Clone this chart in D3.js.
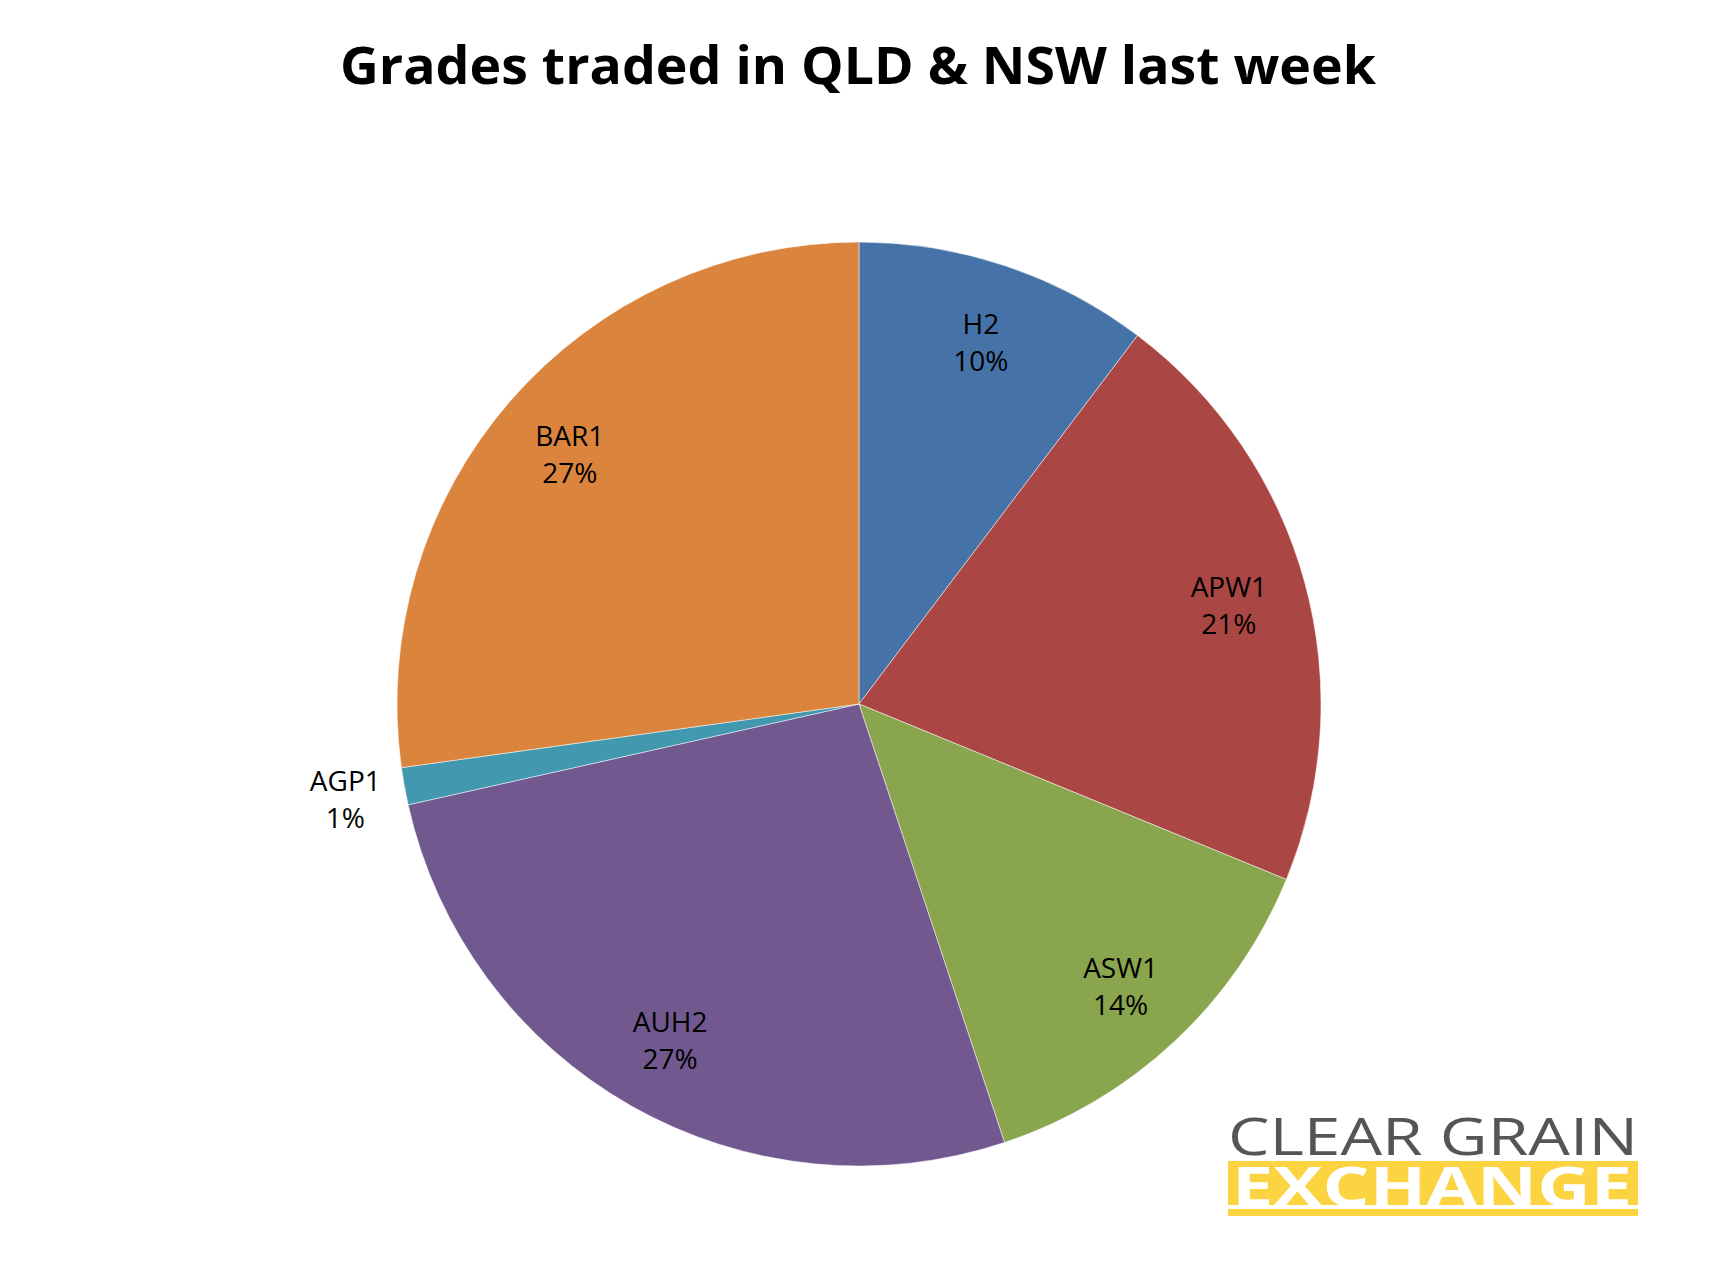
<!DOCTYPE html>
<html><head><meta charset="utf-8">
<script src="https://cdn.jsdelivr.net/npm/d3@7"></script>
<style>body{margin:0;background:#fff}</style></head>
<body><svg id="c" width="1717" height="1285"></svg>
<script>
const categories = ["H2","APW1","ASW1","AUH2","AGP1","BAR1"];
const values = [10.3,20.9,13.7,26.6,1.3,27.2];
const labels = ["10%","21%","14%","27%","1%","27%"];
const colors = ["#4572A7","#AA4643","#89A54E","#71588F","#4198AF","#DB843D"];

const svg = d3.select("#c");
const cx=859, cy=704, R=462;
svg.append("text").attr("x",858).attr("y",84).attr("text-anchor","middle")
  .attr("font-family","'Open Sans', sans-serif").attr("font-weight","bold")
  .attr("font-size",52).attr("textLength",1036).attr("lengthAdjust","spacingAndGlyphs")
  .text("Grades traded in QLD & NSW last week");

const pie = d3.pie().sort(null).value(d=>d)(values);
const arc = d3.arc().innerRadius(0).outerRadius(R);
const g = svg.append("g").attr("transform",`translate(${cx},${cy})`);
g.selectAll("path").data(pie).join("path").attr("d",arc)
  .attr("fill",(d,i)=>colors[i]).attr("stroke","#fff").attr("stroke-width",0.5);
g.selectAll("text.l").data(pie).join("text").attr("class","l")
  .each(function(d,i){
    const a=(d.startAngle+d.endAngle)/2, r = values[i]<3 ? R*1.13 : R*0.83;
    const x=Math.sin(a)*r, y=-Math.cos(a)*r;
    const t=d3.select(this).attr("text-anchor","middle")
      .attr("font-family","'Open Sans', sans-serif").attr("font-size",28).attr("fill","#000");
    t.append("tspan").attr("x",x).attr("y",y-6).text(categories[i]);
    t.append("tspan").attr("x",x).attr("y",y+31).text(labels[i]);
  });

const lg = svg.append("g");
lg.append("text").attr("x",1228).attr("y",1155).attr("textLength",410).attr("lengthAdjust","spacingAndGlyphs")
  .attr("font-family","'Open Sans', sans-serif").attr("font-size",51).attr("fill","#555")
  .text("CLEAR GRAIN");
lg.append("rect").attr("x",1228).attr("y",1161).attr("width",410).attr("height",44).attr("fill","#FCD340");
lg.append("rect").attr("x",1228).attr("y",1209).attr("width",410).attr("height",7).attr("fill","#FCD340");
lg.append("text").attr("x",1232).attr("y",1206).attr("textLength",400).attr("lengthAdjust","spacingAndGlyphs")
  .attr("font-family","'Open Sans', sans-serif").attr("font-weight","bold").attr("font-size",54).attr("fill","#fff")
  .text("EXCHANGE");
</script></body></html>
